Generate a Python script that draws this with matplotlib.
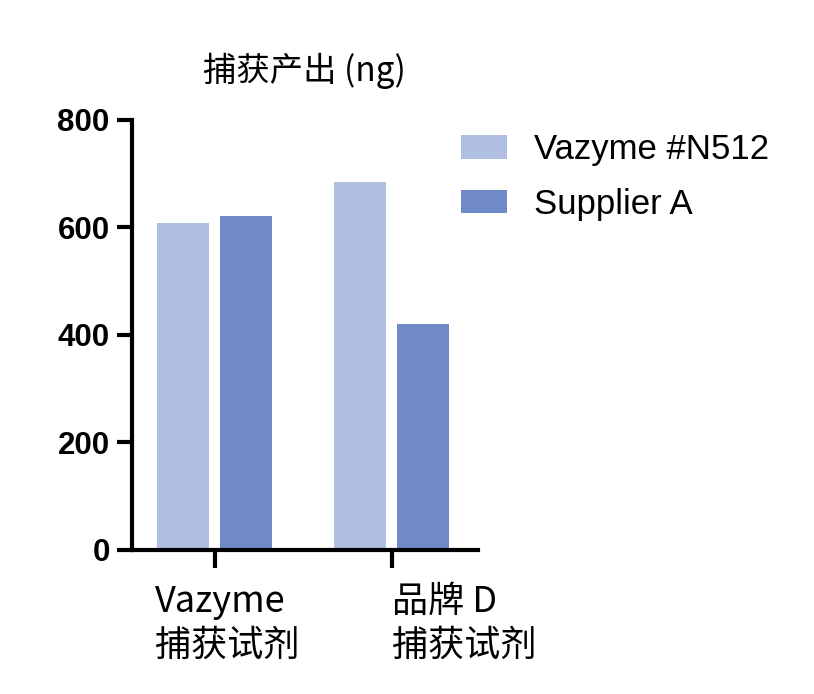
import matplotlib.pyplot as plt
import numpy as np

categories = ["Vazyme\n捕获试剂", "品牌 D\n捕获试剂"]
series_names = ["Vazyme #N512", "Supplier A"]
vazyme_vals = [608, 685]
supplier_vals = [621, 420]
colors = ["#B0BFE1", "#7089C9"]
yticks = [0, 200, 400, 600, 800]

fig = plt.figure(figsize=(8.14, 6.94), dpi=100)
ax = fig.add_axes([0.162, 0.2075, 0.425, 0.62])

x = np.arange(len(categories))
w = 0.294
off = 0.178
b1 = ax.bar(x - off, vazyme_vals, w, color=colors[0], label=series_names[0])
b2 = ax.bar(x + off, supplier_vals, w, color=colors[1], label=series_names[1])

ax.set_xlim(-0.469, 1.486)
ax.set_ylim(0, 800)
ax.set_yticks(yticks)
ax.set_yticklabels([str(v) for v in yticks], fontsize=22.5, fontweight="bold",
                   family=["Liberation Sans", "DejaVu Sans"])
ax.set_xticks(x)
ax.set_xticklabels([])

for s in ["top", "right"]:
    ax.spines[s].set_visible(False)
ax.spines["left"].set_linewidth(3)
ax.spines["bottom"].set_linewidth(3)
ax.tick_params(axis="y", length=11, width=3, pad=5)
ax.tick_params(axis="x", length=13, width=3)

# category labels, left-aligned as in the original
label_x = [-0.339, 1.0]
for lx, lab in zip(label_x, categories):
    ax.text(lx, -0.078, lab, transform=ax.get_xaxis_transform(), ha="left", va="top",
            fontsize=26, linespacing=1.3, family=["Noto Sans CJK SC", "DejaVu Sans"])

ax.set_title("捕获产出 (ng)", fontsize=24, pad=28,
             family=["Noto Sans CJK SC", "DejaVu Sans"])

fig.legend(handles=[b1, b2], loc="upper left", bbox_to_anchor=(0.566, 0.808),
           frameon=False, prop={"family": "Liberation Sans", "size": 25},
           borderpad=0, borderaxespad=0,
           handlelength=1.33, handleheight=0.66, handletextpad=0.78, labelspacing=0.62)

fig.savefig("out.png", dpi=100)
